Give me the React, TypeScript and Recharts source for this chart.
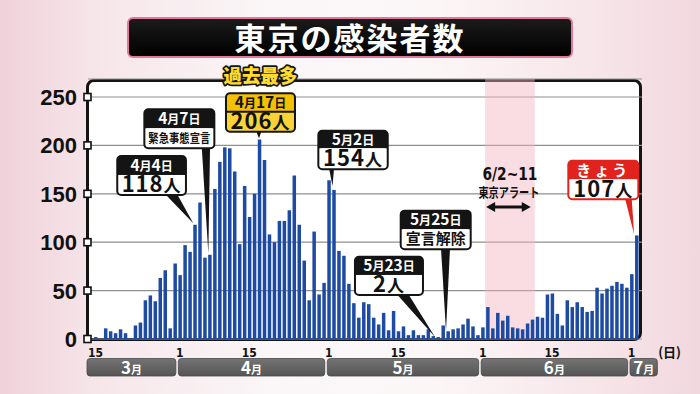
import React from 'react';
import { BarChart, Bar, XAxis, YAxis, CartesianGrid, ReferenceArea, ReferenceDot } from 'recharts';

// ---------- data ----------
const marchCases = [2, 0, 11, 8, 6, 10, 6, 1, 14, 17, 40, 45, 39, 63, 71, 11, 78];
const aprilCases = [66, 97, 90, 118, 141, 84, 87, 155, 183, 198, 197, 173, 98, 158, 126, 150, 206, 185, 108, 100, 122, 122, 133, 169, 118, 81, 40, 111, 46, 58];
const mayCases = [164, 154, 91, 86, 57, 37, 22, 38, 36, 22, 15, 27, 9, 29, 8, 13, 4, 9, 4, 4, 10, 3, 2, 14, 8, 10, 11, 15, 21, 13, 4];
const juneCases = [12, 33, 11, 27, 19, 24, 12, 11, 10, 16, 20, 23, 22, 46, 47, 26, 14, 40, 33, 38, 33, 28, 29, 53, 47, 52, 55, 59, 57, 53];
const julyCases = [67, 107];

const monthSeries = [
  { month: 3, firstDay: 15, values: marchCases },
  { month: 4, firstDay: 1, values: aprilCases },
  { month: 5, firstDay: 1, values: mayCases },
  { month: 6, firstDay: 1, values: juneCases },
  { month: 7, firstDay: 1, values: julyCases },
];

const yTicks = [0, 50, 100, 150, 200, 250];
const dayTicks = ['3/15', '4/1', '4/15', '5/1', '5/15', '6/1', '6/15', '7/1'];
const monthLabels = [
  { start: '3/15', num: '3', days: 17 },
  { start: '4/1', num: '4', days: 30 },
  { start: '5/1', num: '5', days: 31 },
  { start: '6/1', num: '6', days: 30 },
  { start: '7/1', num: '7', days: 6 },
];
const titleText = '東京の感染者数';
const unitText = '(日)';
const alertRange = { from: '6/2', to: '6/11' };
const alertTexts = ['6/2~11', '東京アラート'];

const calloutTexts = [
  { date: '4/4', head: '4月4日', body: '118人', theme: 'dark' },
  { date: '4/7', head: '4月7日', body: '緊急事態宣言', theme: 'dark' },
  { date: '4/17', head: '4月17日', body: '206人', theme: 'gold', top: '過去最多' },
  { date: '5/2', head: '5月2日', body: '154人', theme: 'dark' },
  { date: '5/23', head: '5月23日', body: '2人', theme: 'dark' },
  { date: '5/25', head: '5月25日', body: '宣言解除', theme: 'dark' },
  { date: '7/2', head: 'きょう', body: '107人', theme: 'red' },
];

const data = monthSeries.flatMap((s) =>
  s.values.map((v, k) => ({ date: `${s.month}/${s.firstDay + k}`, cases: v }))
);

// ---------- layout ----------
const JP = "'Noto Sans CJK JP', 'Noto Sans', sans-serif";
const NUM = "'Liberation Sans', Arial, sans-serif";
const NARROW = "'Liberation Sans Narrow', 'DejaVu Sans Condensed', 'Liberation Sans', sans-serif";
const PLOT_L = 88;
const PLOT_R = 642;
const PAD_L = 5;
const PAD_R = 3;
const BW = (PLOT_R - PLOT_L - PAD_L - PAD_R) / data.length;

// box: [left, top, right, bottom, divider] ; ptr: [baseX1, baseX2, tipX, tipY] relative to bar top
const CALLOUT_LAYOUT: Record<string, any> = {
  '4/4': { box: [-77.5, -68.8, -8.8, -29.8, -49.8], ptr: [-29.7, -17.7, -1.5, -1.5], bodySmall: 17 },
  '4/7': { box: [-65.3, -145.5, 4.7, -106.5, -126.5], ptr: [-7.9, 0.4, -1.3, -1.5], bodySmall: 12.5, bodyLen: 62 },
  '4/17': { box: [-33.3, -46.3, 35.7, -7.9, -27.9], ptr: [-3.3, 2.4, -0.3, -1.3], bodySmall: 17 },
  '5/2': { box: [-15.4, -59.2, 54, -20.6, -41.6], ptr: [-4.7, 0.3, -1.2, -4], bodySmall: 17 },
  '5/23': { box: [-83, -80.4, -15, -42.1, -62.1], ptr: [-41.3, -29.7, -3, 0], bodySmall: 17 },
  '5/25': { box: [-47.2, -120.6, 22.8, -82, -102], ptr: [-6.9, 2.1, -1.9, -0.3], bodySmall: 15, bodyLen: 60 },
  '7/2': { box: [-68.2, -74.7, 1.8, -36.1, -56.1], ptr: [-11.5, -4.8, -2.5, -1.4], bodySmall: 17 },
};

const THEMES: Record<string, any> = {
  dark: { head: '#141414', headText: '#ffffff', body: '#ffffff', bodyText: '#111', border: '#141414', ptr: '#141414' },
  gold: { head: '#f4c000', headText: '#111', body: '#fbd338', bodyText: '#111', border: '#141414', ptr: '#141414' },
  red: { head: '#e2231d', headText: '#ffffff', body: '#ffffff', bodyText: '#111', border: '#e2231d', ptr: '#e2231d' },
};

function Mixed({ x, y, text, big, small, fill, len, spacing }: any) {
  const parts = text.match(/[0-9]+|[^0-9]+/g) || [];
  return (
    <text
      x={x}
      y={y}
      textAnchor="middle"
      fill={fill}
      fontWeight={700}
      fontFamily={JP}
      letterSpacing={spacing || 0}
      textLength={len}
      lengthAdjust={len ? 'spacingAndGlyphs' : undefined}
    >
      {parts.map((p: string, i: number) => (
        <tspan key={i} fontSize={/[0-9]/.test(p) ? big : small}>
          {p}
        </tspan>
      ))}
    </text>
  );
}

function Callout({ cx, cy, spec }: any) {
  const lay = CALLOUT_LAYOUT[spec.date];
  const th = THEMES[spec.theme];
  const [l, t, r, b, d] = lay.box;
  const [p1, p2, tx, ty] = lay.ptr;
  const X = cx + l;
  const W = r - l;
  const midX = cx + (l + r) / 2;
  return (
    <g>
      <polygon points={`${cx + p1},${cy + b - 1} ${cx + p2},${cy + b - 1} ${cx + tx},${cy + ty}`} fill={th.ptr} />
      <rect x={X} y={cy + t} width={W} height={b - t} rx={4} fill={th.head} />
      <rect x={X} y={cy + d} width={W} height={b - d} rx={4} fill={th.body} />
      <rect x={X} y={cy + d} width={W} height={5} fill={th.body} />
      {spec.theme === 'gold' && <line x1={X} x2={X + W} y1={cy + d} y2={cy + d} stroke="#141414" strokeWidth={2} />}
      <rect x={X} y={cy + t} width={W} height={b - t} rx={4} fill="none" stroke={th.border} strokeWidth={2} />
      <Mixed
        x={midX}
        y={cy + (t + d) / 2 + 5.5}
        text={spec.head}
        big={15.5}
        small={spec.theme === 'red' ? 15 : 12}
        fill={th.headText}
        spacing={spec.theme === 'red' ? 3 : 0}
      />
      <Mixed
        x={midX}
        y={cy + (d + b) / 2 + (lay.bodyLen ? 5 : 7.5)}
        text={spec.body}
        big={22}
        small={lay.bodySmall}
        fill={th.bodyText}
        len={lay.bodyLen}
        spacing={lay.bodyLen ? 0 : 1}
      />
      {spec.top && (
        <text
          x={midX}
          y={cy + t - 10}
          textAnchor="middle"
          fontSize={19}
          fontWeight={900}
          fontFamily={JP}
          fill="#ffdc2e"
          stroke="#151515"
          strokeWidth={3.5}
          strokeLinejoin="round"
          paintOrder="stroke"
          textLength={74}
          lengthAdjust="spacingAndGlyphs"
        >
          {spec.top}
        </text>
      )}
    </g>
  );
}

function AlertLabel(props: any) {
  const vb = props.viewBox || {};
  const x0 = vb.x;
  const x1 = vb.x + vb.width;
  const cx = (x0 + x1) / 2;
  const y0 = vb.y;
  const ay = y0 + 128;
  const a1 = x0 + 1;
  const a2 = x1 - 4;
  return (
    <g>
      <text x={cx} y={y0 + 101} textAnchor="middle" fontSize={17} fontWeight={700} fontFamily={NARROW} fill="#111" textLength={55} lengthAdjust="spacingAndGlyphs">
        {alertTexts[0]}
      </text>
      <text x={cx - 1} y={y0 + 118} textAnchor="middle" fontSize={13} fontWeight={700} fontFamily={JP} fill="#111" textLength={61} lengthAdjust="spacingAndGlyphs">
        {alertTexts[1]}
      </text>
      <line x1={a1 + 6} x2={a2 - 6} y1={ay} y2={ay} stroke="#111" strokeWidth={3} />
      <polygon points={`${a1},${ay} ${a1 + 9},${ay - 5} ${a1 + 9},${ay + 5}`} fill="#111" />
      <polygon points={`${a2},${ay} ${a2 - 9},${ay - 5} ${a2 - 9},${ay + 5}`} fill="#111" />
    </g>
  );
}

function XTick(props: any) {
  const { x, y, payload } = props;
  const v: string = payload.value;
  const day = v.split('/')[1];
  const mi = monthLabels.findIndex((m) => m.start === v);
  const m = mi >= 0 ? monthLabels[mi] : null;
  const extraLeft = mi === 0 ? 7 : 0;
  const left = x - BW / 2 + 1 - extraLeft;
  const width = m ? m.days * BW - 2.5 + extraLeft : 0;
  return (
    <g>
      <text x={x} y={y + 17.5} textAnchor="middle" fontSize={12} fontFamily={NARROW} fontWeight={700} fill="#111">
        {day}
      </text>
      {m && (
        <g>
          <defs>
            <linearGradient id={`mg${mi}`} x1="0" y1="0" x2="0" y2="1">
              <stop offset="0" stopColor="#747474" />
              <stop offset="1" stopColor="#555555" />
            </linearGradient>
          </defs>
          <rect x={left} y={y + 19.5} width={width} height={17.5} rx={3} fill={`url(#mg${mi})`} stroke="#4a4a4a" strokeWidth={0.8} />
          <text x={left + width / 2} y={y + 34.5} textAnchor="middle" fill="#ffffff" fontWeight={700} fontFamily={JP}>
            <tspan fontSize={17}>{m.num}</tspan>
            <tspan fontSize={11}>月</tspan>
          </text>
        </g>
      )}
      {v === '7/1' && (
        <text x={x + 38} y={y + 18} textAnchor="middle" fontSize={13} fontWeight={700} fontFamily={JP} fill="#111">
          {unitText}
        </text>
      )}
    </g>
  );
}

function YTick(props: any) {
  const { x, y, payload } = props;
  return (
    <g>
      <text x={x} y={y + 8} textAnchor="end" fontSize={22} fontWeight={700} fontFamily={NUM} fill="#111">
        {payload.value}
      </text>
      <rect x={x + 7} y={y - 3.5} width={7} height={7} fill="#ffffff" stroke="#111" strokeWidth={1.6} />
    </g>
  );
}

export default function App() {
  const valueOf = (d: string) => data.find((r) => r.date === d)?.cases ?? 0;
  return (
    <div
      style={{
        position: 'absolute',
        left: 0,
        top: 0,
        width: 700,
        height: 394,
        overflow: 'hidden',
        background:
          'linear-gradient(90deg, #f0d2d9 0%, #f6e6ea 14%, #fbf7f8 40%, #fcf6f7 62%, #f7e6ea 84%, #f1d8de 100%)',
      }}
    >
      <div
        style={{
          position: 'absolute',
          left: 127,
          top: 17,
          width: 446,
          height: 41,
          boxSizing: 'border-box',
          background: 'linear-gradient(#1b1b1b, #000)',
          border: '2px solid #e4789a',
          borderRadius: 6,
          color: '#fff',
          fontFamily: JP,
          fontWeight: 700,
          fontSize: 31,
          lineHeight: '36px',
          textAlign: 'center',
          letterSpacing: 2,
        }}
      >
        {titleText}
      </div>
      <div
        style={{
          position: 'absolute',
          left: 86,
          top: 79,
          width: 556,
          height: 262,
          boxSizing: 'border-box',
          background: '#ffffff',
          border: '3px solid #141414',
          borderRadius: '8px 8px 8px 2px',
        }}
      />
      <BarChart
        width={700}
        height={394}
        data={data}
        margin={{ top: 79, right: 58, bottom: 14, left: 0 }}
        barSize={3.5}
      >
        <CartesianGrid vertical={false} stroke="#8f8f8f" strokeWidth={1.2} />
        <ReferenceArea
          x1={alertRange.from}
          x2={alertRange.to}
          fill="#f5b3c2"
          fillOpacity={0.45}
          ifOverflow="visible"
          label={(p: any) => <AlertLabel {...p} />}
        />
        <XAxis
          dataKey="date"
          ticks={dayTicks}
          interval={0}
          tick={<XTick />}
          tickLine={false}
          axisLine={false}
          tickSize={0}
          tickMargin={0}
          height={41}
          padding={{ left: PAD_L, right: PAD_R }}
        />
        <YAxis
          domain={[0, 268.6]}
          ticks={yTicks}
          tick={<YTick />}
          tickLine={false}
          axisLine={false}
          tickSize={0}
          tickMargin={11}
          width={PLOT_L}
          allowDataOverflow
        />
        <Bar dataKey="cases" fill="#1d4ba3" isAnimationActive={false} />
        {calloutTexts.map((c) => (
          <ReferenceDot
            key={c.date}
            x={c.date}
            y={valueOf(c.date)}
            r={0}
            ifOverflow="visible"
            shape={(p: any) => <Callout cx={p.cx} cy={p.cy} spec={c} />}
          />
        ))}
      </BarChart>
    </div>
  );
}
